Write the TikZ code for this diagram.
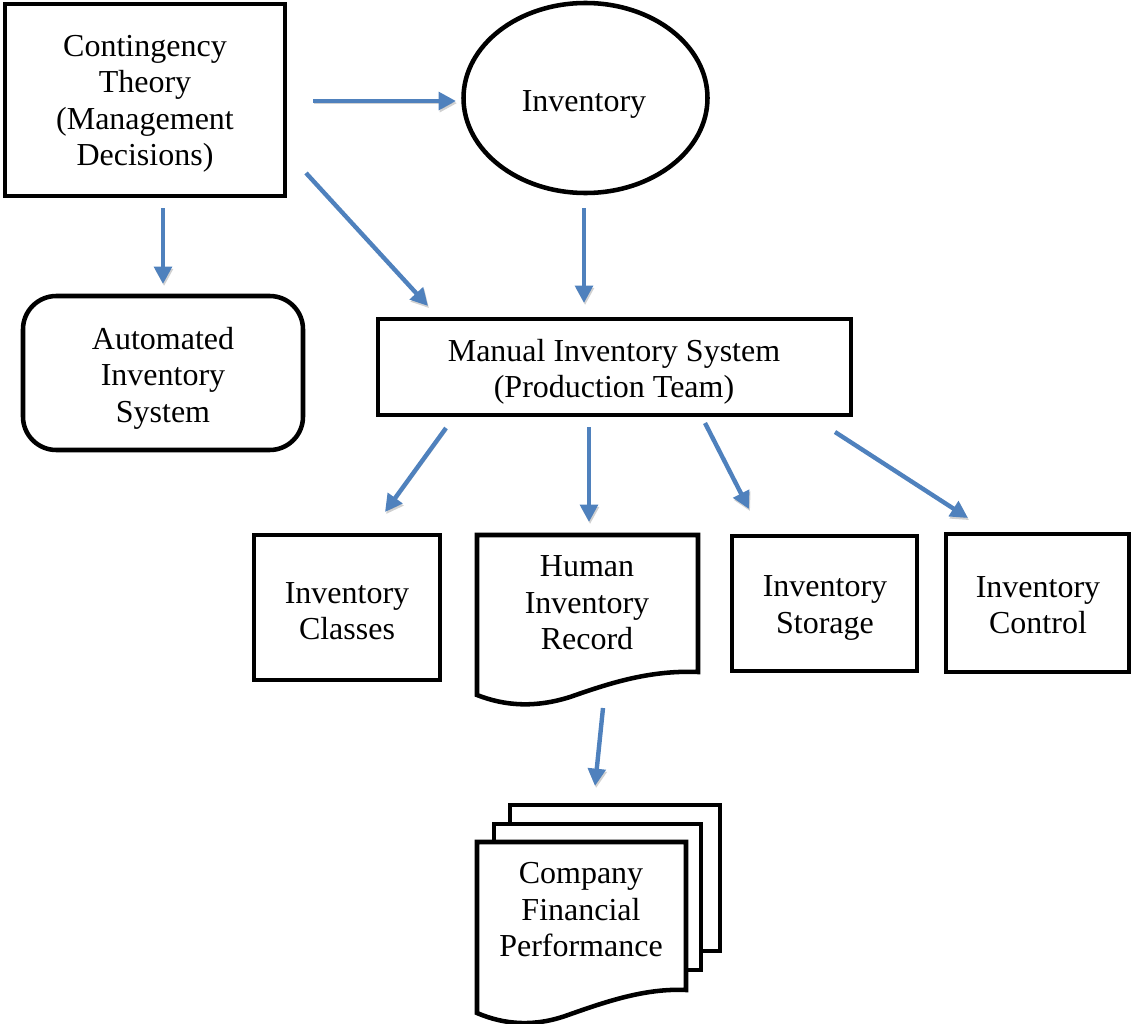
\documentclass[tikz,border=0pt]{standalone}
\usepackage{fontspec}
\setmainfont{Liberation Serif}
\usetikzlibrary{shapes.geometric,arrows.meta}
\definecolor{arrowblue}{RGB}{79,129,189}
\tikzset{
  box/.style={draw=black, line width=3.4pt, fill=white, inner sep=0pt},
  lbl/.style={align=center, font=\fontsize{24}{27.4}\selectfont, inner sep=0pt},
  arr/.style={draw=arrowblue, line width=3.3pt,
    -{Triangle[length=13pt,width=13pt]},
    preaction={draw=black, draw opacity=0.18, fill opacity=0.18,
      transform canvas={shift={(0.8pt,-1.6pt)}}}},
}
\begin{document}
\begin{tikzpicture}[x=0.75pt,y=-0.75pt]
\useasboundingbox (0,0) rectangle (1132,1024);

% top row
\node[box, minimum width=280*0.75pt, minimum height=192*0.75pt] (cont) at (145,100) {};
\node[lbl] (contT) at (145,104) {Contingency\\Theory\\(Management\\Decisions)};
\node[box, ellipse, minimum width=244*0.75pt, minimum height=190*0.75pt] (inv) at (585.5,98) {};
\node[lbl] (invT) at (584,104) {Inventory};

% second row
\node[box, rounded corners=25pt, minimum width=280*0.75pt, minimum height=154*0.75pt] (auto) at (163,373) {};
\node[lbl] (autoT) at (163,378) {Automated\\Inventory\\System};
\node[box, minimum width=473*0.75pt, minimum height=96*0.75pt] (man) at (614.5,367) {};
\node[lbl] (manT) at (614,372) {Manual Inventory System\\(Production Team)};

% third row
\node[box, minimum width=186*0.75pt, minimum height=145*0.75pt] (cls) at (347,607.5) {};
\node[lbl] (clsT) at (347,611) {Inventory\\Classes};
\node[box, minimum width=185*0.75pt, minimum height=135*0.75pt] (sto) at (824.5,603.5) {};
\node[lbl] (stoT) at (825,608) {Inventory\\Storage};
\node[box, minimum width=183*0.75pt, minimum height=138*0.75pt] (ctl) at (1037.5,603) {};
\node[lbl] (ctlT) at (1038,605) {Inventory\\Control};

% document: Human Inventory Record
\draw[box] (477,535) -- (698,535) -- (698,672)
  .. controls (650,670) and (610,683) .. (570,697)
  .. controls (535,708) and (505,706) .. (477,695) -- cycle;
\node[lbl] (hum) at (587,603) {Human\\Inventory\\Record};

% multi-document: Company Financial Performance
\draw[box] (510,805) rectangle (720,951);
\draw[box] (494,824) rectangle (701,970);
\draw[box] (477,842) -- (686,842) -- (686,990)
  .. controls (645,988) and (605,1002) .. (568,1015)
  .. controls (535,1027) and (505,1025) .. (477,1013) -- cycle;
\node[lbl] (comp) at (581,910) {Company\\Financial\\Performance};

% connector end points
\coordinate (a1s) at (313,101);  \coordinate (a1e) at (456,101);
\coordinate (a2s) at (163,208);  \coordinate (a2e) at (163,284);
\coordinate (a3s) at (306,173);  \coordinate (a3e) at (428,306);
\coordinate (a4s) at (584,208);  \coordinate (a4e) at (584,303);
\coordinate (a5s) at (446,428);  \coordinate (a5e) at (385,512);
\coordinate (a6s) at (589,427);  \coordinate (a6e) at (589,522);
\coordinate (a7s) at (705,423);  \coordinate (a7e) at (749,509);
\coordinate (a8s) at (835,432);  \coordinate (a8e) at (968,518);
\coordinate (a9s) at (603,708);  \coordinate (a9e) at (595,786);

\draw[arr] (a1s) -- (a1e);
\draw[arr] (a2s) -- (a2e);
\draw[arr] (a3s) -- (a3e);
\draw[arr] (a4s) -- (a4e);
\draw[arr] (a5s) -- (a5e);
\draw[arr] (a6s) -- (a6e);
\draw[arr] (a7s) -- (a7e);
\draw[arr] (a8s) -- (a8e);
\draw[arr] (a9s) -- (a9e);
\end{tikzpicture}
\end{document}
